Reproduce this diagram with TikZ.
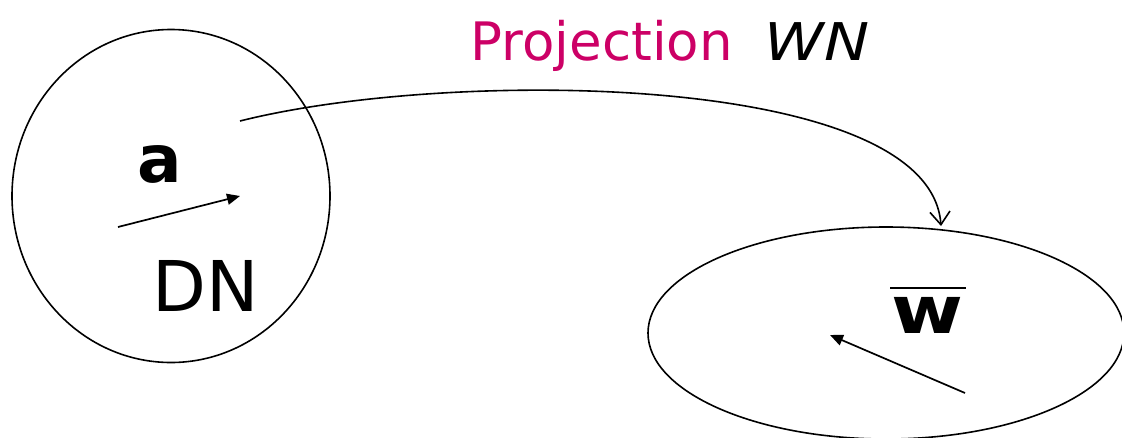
\documentclass[tikz,border=0pt]{standalone}
\usepackage{fontspec}
\usepackage{graphicx}
\setmainfont{DejaVu Sans}
\usetikzlibrary{arrows.meta,shapes.geometric}
\definecolor{projpink}{RGB}{204,0,102}
\begin{document}
\begin{tikzpicture}[x=1pt,y=-1pt,
  line width=1.5pt,
  region/.style={draw, ellipse, inner sep=0pt, line width=1.6pt},
  vec/.style={-{Triangle[length=13pt,width=11pt]}, line width=1.7pt},
  proj/.style={-{Straight Barb[length=13pt,width=20pt]}, line width=1.6pt},
  lbl/.style={inner sep=0pt, anchor=base west}]
\useasboundingbox (0,0) rectangle (1122,437);
\node[region, minimum width=318pt, minimum height=333pt] (DN) at (171,196) {};
\node[region, minimum width=476pt, minimum height=212pt] (WN) at (886,333) {};
\coordinate (a1) at (118,227);
\coordinate (a2) at (240,196);
\coordinate (w1) at (965,393);
\coordinate (w2) at (830,335);
\coordinate (p0) at (240,121);
\coordinate (p1) at (941,226);
\draw[vec] (a1) -- (a2);
\draw[vec] (w1) -- (w2);
\draw[proj] (p0) .. controls (450,68) and (930,72) .. (p1);
\node[lbl, font=\fontsize{66}{70}\selectfont\bfseries] (alab) at (137,182) {a};
\node[lbl, font=\fontsize{70}{74}\selectfont] (dnlab) at (152,311) {DN};
\node[lbl, font=\fontsize{66}{70}\selectfont\bfseries] (wlab) at (891,333) {\scalebox{1.18}[1]{w}};
\draw[line width=2.6pt] (890,288) -- (966,288);
\node[lbl, font=\fontsize{53}{57}\selectfont, text=projpink] (projlab) at (470,60) {Projection};
\node[lbl, font=\fontsize{52}{56}\selectfont\itshape] (wnlab) at (764,60) {\scalebox{1.16}[1]{WN}};
\end{tikzpicture}
\end{document}
